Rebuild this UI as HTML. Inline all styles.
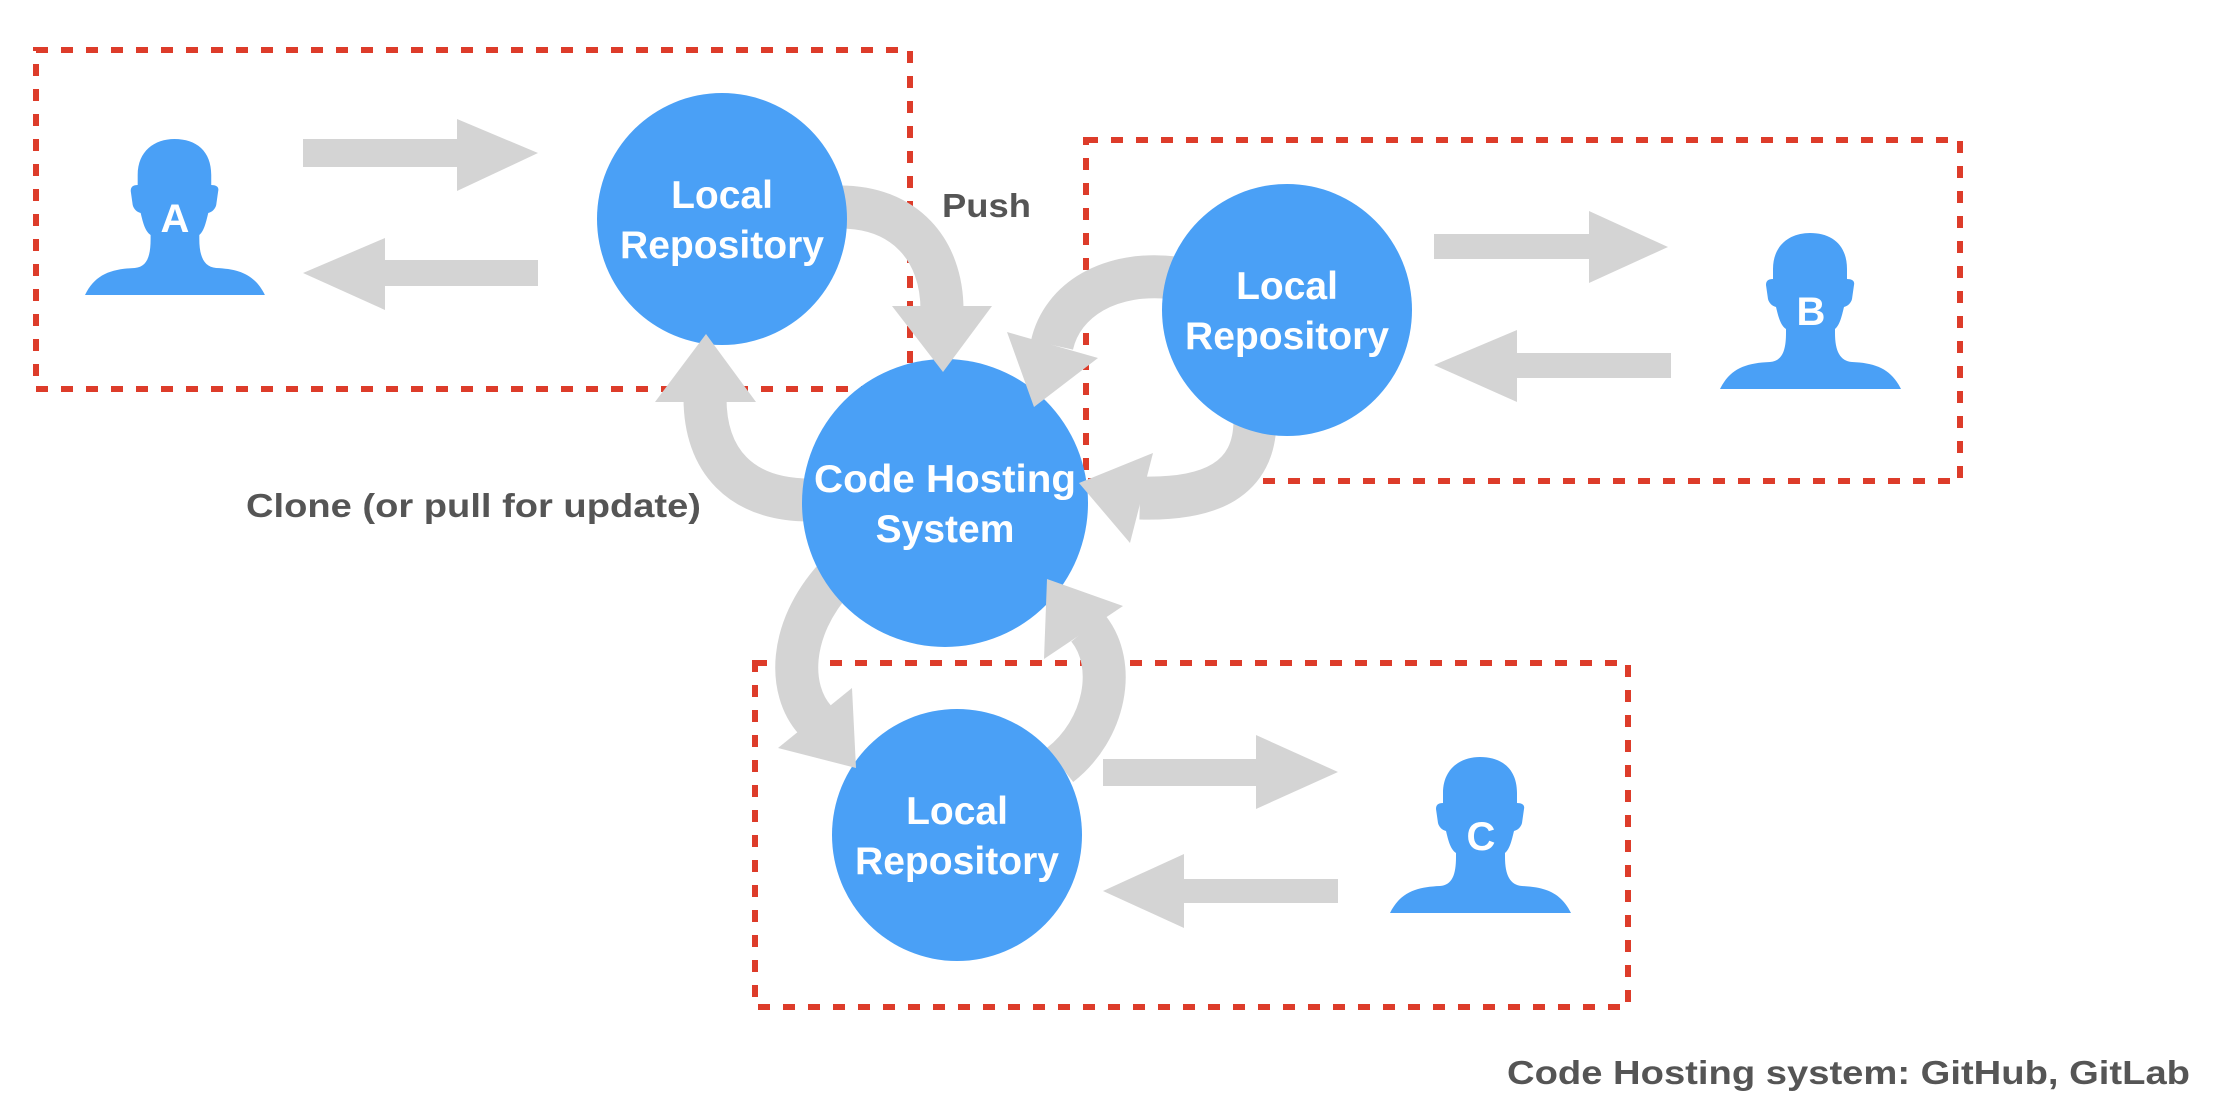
<!DOCTYPE html>
<html><head><meta charset="utf-8"><style>
html,body{margin:0;padding:0;background:#fff;}
svg{display:block;}
text{font-family:"Liberation Sans",sans-serif;font-weight:bold;}
</style></head><body>
<svg width="2220" height="1118" viewBox="0 0 2220 1118" xmlns="http://www.w3.org/2000/svg">
<defs>
<path id="person" d="M0,156 C10,136 25,130 50,129 C62,128 66,118 66,100 L66,96 C60,92 58,82 56,74 C52,73 49,70 48,66 L46,52 C46,48 48,46 53,46 L53,36 C53,12 70,0 90,0 C112,0 127,12 127,36 L127,46 C132,46 135,48 134,52 L132,66 C131,70 128,73 124,74 C122,82 120,92 115,96 L115,100 C115,118 120,128 132,129 C156,130 171,136 181,156 Z" fill="#4aa0f6"/>
</defs>
<!-- dashed boxes -->
<g fill="none" stroke="#dd3c2a" stroke-width="6" stroke-dasharray="12 13">
<rect x="36" y="50" width="874" height="339"/>
<rect x="1086" y="140" width="874" height="341"/>
<rect x="755" y="663" width="873" height="344"/>
</g>
<!-- straight arrows -->
<g fill="#d4d4d4">
<polygon points="303,139 457,139 457,119 538,153 457,191 457,167 303,167"/>
<polygon points="303,273 385,238 385,260 538,260 538,286 385,286 385,310"/>
<polygon points="1434,234 1589,234 1589,211 1668,247 1589,283 1589,259 1434,259"/>
<polygon points="1434,365 1517,330 1517,353 1671,353 1671,378 1517,378 1517,402"/>
<polygon points="1103,759 1256,759 1256,735 1338,772 1256,809 1256,786 1103,786"/>
<polygon points="1103,891 1184,854 1184,879 1338,879 1338,903 1184,903 1184,928"/>
</g>
<!-- curved bands -->
<g fill="none" stroke="#d4d4d4" stroke-width="43">
<path d="M840,207 C905,207 942,250 942,310"/>
<path d="M810,500 C740,500 705,460 705,398"/>
<path d="M1175,278 C1110,270 1062,300 1052,345"/>
<path d="M1255,420 C1255,480 1210,500 1140,498"/>
<path d="M835,578 C788,630 788,690 815,720"/>
<path d="M1060,765 C1105,730 1118,665 1088,628"/>
</g>
<!-- circles -->
<g fill="#4aa0f6">
<ellipse cx="722" cy="219" rx="125" ry="126"/>
<ellipse cx="945" cy="503" rx="143" ry="144"/>
<ellipse cx="1287" cy="310" rx="125" ry="126"/>
<ellipse cx="957" cy="835" rx="125" ry="126"/>
</g>
<!-- arrow heads -->
<g fill="#d4d4d4">
<polygon points="892,306 992,306 943,372"/>
<polygon points="655,402 756,402 706,334"/>
<polygon points="1007,332 1098,358 1034,407"/>
<polygon points="1153,453 1130,543 1079,483"/>
<polygon points="778,748 852,688 856,768"/>
<polygon points="1047,579 1123,606 1044,659"/>
</g>
<!-- persons -->
<use href="#person" transform="translate(85,139) scale(0.994,1.0)"/>
<use href="#person" transform="translate(1720,233)"/>
<use href="#person" transform="translate(1390,757)"/>
<g fill="#fff" font-size="40" text-anchor="middle">
<text x="175" y="232">A</text>
<text x="1811" y="325">B</text>
<text x="1481" y="850">C</text>
</g>
<!-- circle text -->
<g fill="#fff" font-size="39" text-anchor="middle">
<text x="722" y="208">Local</text>
<text x="722" y="258" textLength="204" lengthAdjust="spacingAndGlyphs">Repository</text>
<text x="945" y="492" textLength="262" lengthAdjust="spacingAndGlyphs">Code Hosting</text>
<text x="945" y="542">System</text>
<text x="1287" y="299">Local</text>
<text x="1287" y="349" textLength="204" lengthAdjust="spacingAndGlyphs">Repository</text>
<text x="957" y="824">Local</text>
<text x="957" y="874" textLength="204" lengthAdjust="spacingAndGlyphs">Repository</text>
</g>
<!-- labels -->
<g fill="#555" font-size="33">
<text x="942" y="217" textLength="89" lengthAdjust="spacingAndGlyphs">Push</text>
<text x="246" y="517" textLength="455" lengthAdjust="spacingAndGlyphs">Clone (or pull for update)</text>
<text x="1507" y="1084" textLength="683" lengthAdjust="spacingAndGlyphs">Code Hosting system: GitHub, GitLab</text>
</g>
</svg>
</body></html>
